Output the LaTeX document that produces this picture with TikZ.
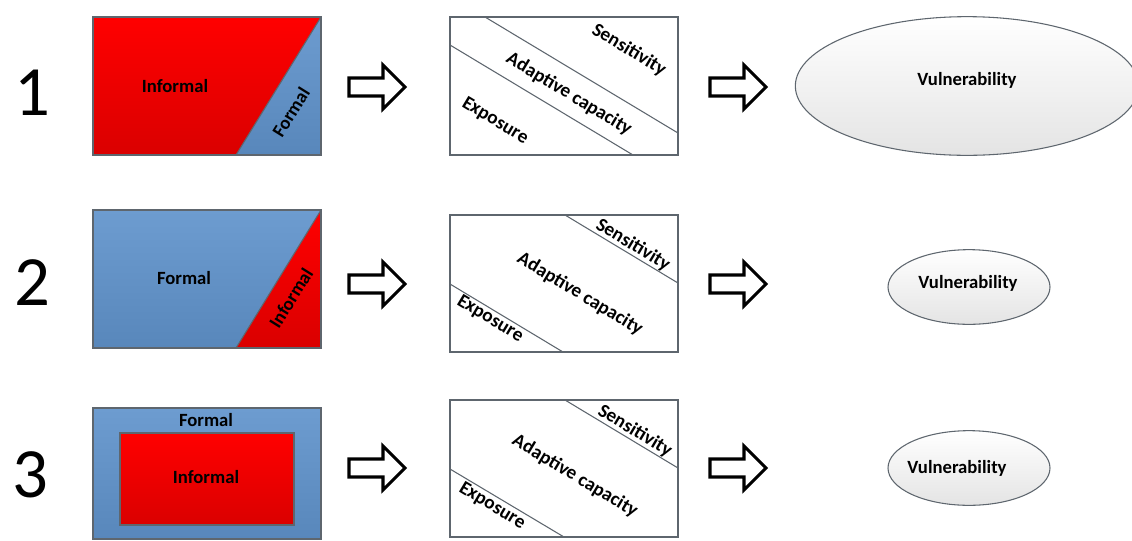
\documentclass[tikz,border=0pt]{standalone}
\usepackage{fontspec}
\setmainfont{Carlito}
\usetikzlibrary{shapes.geometric}
\definecolor{redtop}{HTML}{FF0000}
\definecolor{redbot}{HTML}{DA0000}
\definecolor{bluetop}{HTML}{6D9CD0}
\definecolor{bluebot}{HTML}{5887BB}
\definecolor{edgec}{HTML}{5E666E}
\definecolor{ellbot}{HTML}{E4E4E4}
\begin{document}
\begin{tikzpicture}[x=0.75pt,y=-0.75pt,
  lbl/.style={font=\fontsize{14}{16}\bfseries\selectfont, inner sep=0pt},
  mid/.style={font=\fontsize{14.5}{16}\bfseries\selectfont, inner sep=0pt, rotate=-31},
  num/.style={font=\fontsize{53}{60}\selectfont, inner sep=0pt},
  boxline/.style={draw=edgec, line width=0.8pt},
  vul/.style={ellipse, draw=edgec, line width=0.8pt, top color=white, bottom color=ellbot, inner sep=0pt},
  harrow/.pic={\draw[line width=2.3pt, line join=miter, fill=white]
      (-28,-9) -- (6,-9) -- (6,-22) -- (28,0) -- (6,22) -- (6,9) -- (-28,9) -- cycle;}
]
\useasboundingbox (0,0) rectangle (1132,540);

% numbers
\node[num] (n1) at (32,93) {1};
\node[num] (n2) at (32,283) {2};
\node[num] (n3) at (30,475) {3};

% ---- row 1 left box
\shade[top color=redtop,bottom color=redbot] (93,17) -- (321,17) -- (236,155) -- (93,155) -- cycle;
\shade[top color=bluetop,bottom color=bluebot] (321,17) -- (321,155) -- (236,155) -- cycle;
\draw[boxline] (93,17) rectangle (321,155);
\draw[boxline] (321,17) -- (236,155);
\node[lbl] (inf1) at (175,86) {Informal};
\node[lbl, rotate=58] (for1) at (291,112) {Formal};

% ---- row 2 left box
\shade[top color=bluetop,bottom color=bluebot] (93,210) -- (321,210) -- (236,348) -- (93,348) -- cycle;
\shade[top color=redtop,bottom color=redbot] (321,210) -- (321,348) -- (236,348) -- cycle;
\draw[boxline] (93,210) rectangle (321,348);
\draw[boxline] (321,210) -- (236,348);
\node[lbl] (for2) at (184,278) {Formal};
\node[lbl, rotate=58] (inf2) at (291,298) {Informal};

% ---- row 3 left box
\shade[top color=bluetop,bottom color=bluebot] (93,408) rectangle (321,539);
\draw[boxline] (93,408) rectangle (321,539);
\shade[top color=redtop,bottom color=redbot] (120,433) rectangle (294,525);
\draw[boxline] (120,433) rectangle (294,525);
\node[lbl] (for3) at (206,420) {Formal};
\node[lbl] (inf3) at (206,477) {Informal};

% ---- middle boxes
\draw[boxline] (450,17) rectangle (678,155);
\draw[boxline] (485,17) -- (678,133);
\draw[boxline] (450,45) -- (633,155);
\node[mid] (sen1) at (629,50) {Sensitivity};
\node[mid] (ada1) at (569,94) {Adaptive capacity};
\node[mid] (exp1) at (495,121) {Exposure};

\draw[boxline] (450,215) rectangle (678,352);
\draw[boxline] (565,215) -- (678,283);
\draw[boxline] (450,284) -- (563,352);
\node[mid] (sen2) at (633,245) {Sensitivity};
\node[mid] (ada2) at (580,294) {Adaptive capacity};
\node[mid] (exp2) at (490,319) {Exposure};

\draw[boxline] (450,400) rectangle (678,537);
\draw[boxline] (565,400) -- (678,468);
\draw[boxline] (450,469) -- (564,537);
\node[mid] (sen3) at (635,431) {Sensitivity};
\node[mid] (ada3) at (575,476) {Adaptive capacity};
\node[mid] (exp3) at (492,506) {Exposure};

% ---- arrows
\pic at (377,87) {harrow};
\pic at (738,87) {harrow};
\pic at (377,284) {harrow};
\pic at (738,284) {harrow};
\pic at (377,468) {harrow};
\pic at (738,468) {harrow};

% ---- vulnerability ellipses
\node[vul, minimum width=257.5pt, minimum height=104pt] (e1) at (967,86) {};
\node[lbl] (v1) at (967,80) {Vulnerability};
\node[vul, minimum width=121.5pt, minimum height=56pt] (e2) at (969,287) {};
\node[lbl] (v2) at (968,283) {Vulnerability};
\node[vul, minimum width=121.5pt, minimum height=56pt] (e3) at (969,468) {};
\node[lbl] (v3) at (957,468) {Vulnerability};
\end{tikzpicture}
\end{document}
